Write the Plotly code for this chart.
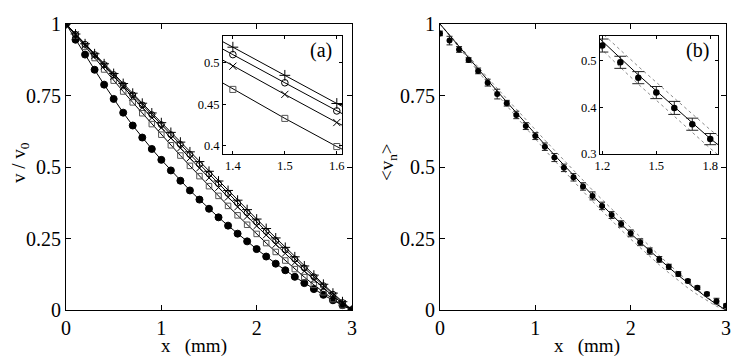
import plotly.graph_objects as go

# positions along the channel (mm)
x_mm = [0.0, 0.1, 0.2, 0.3, 0.4, 0.5, 0.6, 0.7, 0.8, 0.9, 1.0,
        1.1, 1.2, 1.3, 1.4, 1.5, 1.6, 1.7, 1.8, 1.9, 2.0,
        2.1, 2.2, 2.3, 2.4, 2.5, 2.6, 2.7, 2.8, 2.9, 3.0]

# panel (a): v / v0 for the five cases
v_plus = [1.0, 0.965, 0.931, 0.896, 0.861, 0.827, 0.792, 0.758, 0.723, 0.689, 0.655,
          0.621, 0.587, 0.553, 0.519, 0.485, 0.451, 0.418, 0.384, 0.351, 0.318,
          0.285, 0.252, 0.219, 0.186, 0.154, 0.122, 0.090, 0.059, 0.029, 0.0]
v_circle = [1.0, 0.964, 0.929, 0.893, 0.858, 0.823, 0.787, 0.752, 0.717, 0.683, 0.648,
            0.613, 0.579, 0.544, 0.510, 0.476, 0.442, 0.408, 0.375, 0.341, 0.308,
            0.275, 0.243, 0.210, 0.178, 0.147, 0.116, 0.085, 0.055, 0.026, 0.0]
v_cross = [1.0, 0.963, 0.926, 0.889, 0.853, 0.816, 0.780, 0.744, 0.708, 0.672, 0.637,
           0.601, 0.566, 0.531, 0.496, 0.462, 0.428, 0.394, 0.360, 0.327, 0.294,
           0.262, 0.229, 0.198, 0.166, 0.136, 0.106, 0.077, 0.049, 0.023, 0.0]
v_square = [1.0, 0.960, 0.920, 0.881, 0.841, 0.802, 0.764, 0.726, 0.688, 0.650, 0.613,
            0.576, 0.540, 0.504, 0.468, 0.433, 0.399, 0.364, 0.331, 0.298, 0.266,
            0.234, 0.203, 0.173, 0.143, 0.115, 0.088, 0.062, 0.038, 0.016, 0.0]
v_filled = [1.0, 0.945, 0.893, 0.840, 0.788, 0.738, 0.690, 0.645, 0.603, 0.563, 0.525,
            0.488, 0.452, 0.418, 0.386, 0.354, 0.324, 0.295, 0.267, 0.240, 0.213,
            0.187, 0.162, 0.139, 0.116, 0.094, 0.073, 0.053, 0.034, 0.017, 0.0]

# panel (b): <v_n> measured, error, fit and bounds
vn_mean = [0.967, 0.942, 0.911, 0.874, 0.836, 0.795, 0.755, 0.723, 0.682, 0.643, 0.608,
           0.571, 0.533, 0.497, 0.464, 0.432, 0.399, 0.364, 0.332, 0.301, 0.268,
           0.237, 0.206, 0.177, 0.151, 0.126, 0.101, 0.078, 0.056, 0.031, 0.015]
vn_err = [0.008, 0.015, 0.010, 0.008, 0.010, 0.012, 0.017, 0.010, 0.013, 0.012, 0.012,
          0.013, 0.014, 0.013, 0.013, 0.013, 0.014, 0.013, 0.012, 0.011, 0.012,
          0.012, 0.011, 0.010, 0.009, 0.008, 0.006, 0.006, 0.006, 0.010, 0.006]
vn_fit = [1.0, 0.960, 0.921, 0.881, 0.842, 0.804, 0.765, 0.727, 0.689, 0.652, 0.615,
          0.578, 0.542, 0.506, 0.470, 0.435, 0.401, 0.367, 0.333, 0.300, 0.268,
          0.237, 0.207, 0.177, 0.149, 0.121, 0.094, 0.068, 0.043, 0.020, 0.0]
vn_upper = [1.0, 0.962, 0.924, 0.887, 0.850, 0.812, 0.775, 0.739, 0.702, 0.666, 0.630,
            0.594, 0.559, 0.523, 0.488, 0.454, 0.419, 0.386, 0.352, 0.319, 0.286,
            0.254, 0.222, 0.190, 0.160, 0.130, 0.101, 0.072, 0.046, 0.021, 0.0]
vn_lower = [1.0, 0.958, 0.916, 0.875, 0.834, 0.793, 0.753, 0.714, 0.674, 0.636, 0.598,
            0.560, 0.523, 0.486, 0.450, 0.415, 0.380, 0.346, 0.312, 0.280, 0.248,
            0.217, 0.187, 0.158, 0.130, 0.103, 0.077, 0.054, 0.032, 0.013, 0.0]

main_ticks = [0, 0.25, 0.5, 0.75, 1]
main_ticktext = ['0', '0.25', '0.5', '0.75', '1']
x_ticks = [0, 1, 2, 3]

# the page body has an 8px margin, so the figure sits at (8, 8) in the window
OFF = 8
W, H = 743 - OFF, 356 - OFF
FONT = 'Liberation Serif'


def px_x(a, b):
    return [(a - OFF) / W, (b - OFF) / W]


def px_y(top, bottom):
    return [1 - (bottom - OFF) / H, 1 - (top - OFF) / H]


def at(px, py):
    return dict(x=(px - OFF) / W, y=1 - (py - OFF) / H)


def axis_style(size, ticklen):
    return dict(showline=True, linecolor='black', linewidth=1, mirror='ticks',
                ticks='inside', ticklen=ticklen, tickcolor='black', showgrid=False,
                zeroline=False, automargin=False,
                tickfont=dict(family=FONT, size=size, color='black'))


def series(fig, y, symbol, size, color, xa, ya, line_color='black'):
    fig.add_trace(go.Scatter(x=x_mm, y=y, mode='lines+markers', xaxis=xa, yaxis=ya,
                             line=dict(color=line_color, width=1),
                             marker=dict(symbol=symbol, size=size, color=color,
                                         line=dict(color=color, width=1)),
                             showlegend=False))


fig = go.Figure()

# left panel: five curves
series(fig, v_filled, 'circle', 7, 'black', 'x', 'y')
for xa, ya, scale in (('x', 'y', 1.0), ('x2', 'y2', 1.1)):
    series(fig, v_square, 'square-open', 5.5 * scale, '#555555', xa, ya)
    series(fig, v_cross, 'x-thin-open', 6.5 * scale, 'black', xa, ya)
    series(fig, v_circle, 'circle-open', 6 * scale, 'black', xa, ya)
    series(fig, v_plus, 'cross-thin-open', 7 * scale, 'black', xa, ya)

# right panel and its inset
for xa, ya, cap, msize in (('x3', 'y3', 3, 6), ('x4', 'y4', 6, 6.5)):
    for bound in (vn_upper, vn_lower):
        fig.add_trace(go.Scatter(x=x_mm, y=bound, mode='lines', xaxis=xa, yaxis=ya,
                                 line=dict(color='#8a8a8a', width=1, dash='dot'),
                                 showlegend=False))
    fig.add_trace(go.Scatter(x=x_mm, y=vn_fit, mode='lines', xaxis=xa, yaxis=ya,
                             line=dict(color='black', width=1), showlegend=False))
    fig.add_trace(go.Scatter(x=x_mm, y=vn_mean, mode='markers', xaxis=xa, yaxis=ya,
                             marker=dict(symbol='circle', size=msize, color='black'),
                             error_y=dict(type='data', array=vn_err, color='#222222',
                                          thickness=1, width=cap),
                             showlegend=False))

main_x = axis_style(20, 5)
main_y = axis_style(20, 5)
ins_x = axis_style(12.5, 3)
ins_y = axis_style(12.5, 3)

fig.update_layout(
    width=W, height=H,
    margin=dict(l=0, r=0, t=0, b=0, pad=0),
    paper_bgcolor='white', plot_bgcolor='white',
    font=dict(family=FONT, size=19, color='black'),
    xaxis=dict(main_x, domain=px_x(66, 352), range=[0, 3], tickvals=x_ticks, anchor='y'),
    yaxis=dict(main_y, domain=px_y(24, 310), range=[0, 1], tickvals=main_ticks,
               ticktext=main_ticktext, anchor='x'),
    xaxis2=dict(ins_x, domain=px_x(223, 342), range=[1.381, 1.61],
                tickvals=[1.4, 1.5, 1.6], anchor='y2'),
    yaxis2=dict(ins_y, domain=px_y(36, 154), range=[0.39, 0.5325],
                tickvals=[0.4, 0.45, 0.5], ticktext=['0.4', '0.45', '0.5'], anchor='x2'),
    xaxis3=dict(main_x, domain=px_x(440, 726), range=[0, 3], tickvals=x_ticks, anchor='y3'),
    yaxis3=dict(main_y, domain=px_y(24, 310), range=[0, 1], tickvals=main_ticks,
                ticktext=main_ticktext, anchor='x3'),
    xaxis4=dict(ins_x, domain=px_x(600, 718), range=[1.187, 1.843],
                tickvals=[1.2, 1.5, 1.8], anchor='y4'),
    yaxis4=dict(ins_y, domain=px_y(36, 154), range=[0.3, 0.5535],
                tickvals=[0.3, 0.4, 0.5], anchor='x4'),
)

ann = dict(xref='paper', yref='paper', showarrow=False, xanchor='center',
           yanchor='middle', font=dict(family=FONT, size=19, color='black'))
xlabel = 'x&nbsp;&nbsp;&nbsp;(mm)'
fig.add_annotation(ann, **at(194, 346), text=xlabel)
fig.add_annotation(ann, **at(587, 346), text=xlabel)
fig.add_annotation(ann, **at(20, 163), text='v / v<sub>0</sub>', textangle=-90)
fig.add_annotation(ann, **at(388, 162), text='&lt;v<sub>n</sub>&gt;', textangle=-90)
ann['font'] = dict(family=FONT, size=20, color='black')
fig.add_annotation(ann, **at(321, 50), text='(a)')
fig.add_annotation(ann, **at(697, 50), text='(b)')

fig.write_html('out.html')
